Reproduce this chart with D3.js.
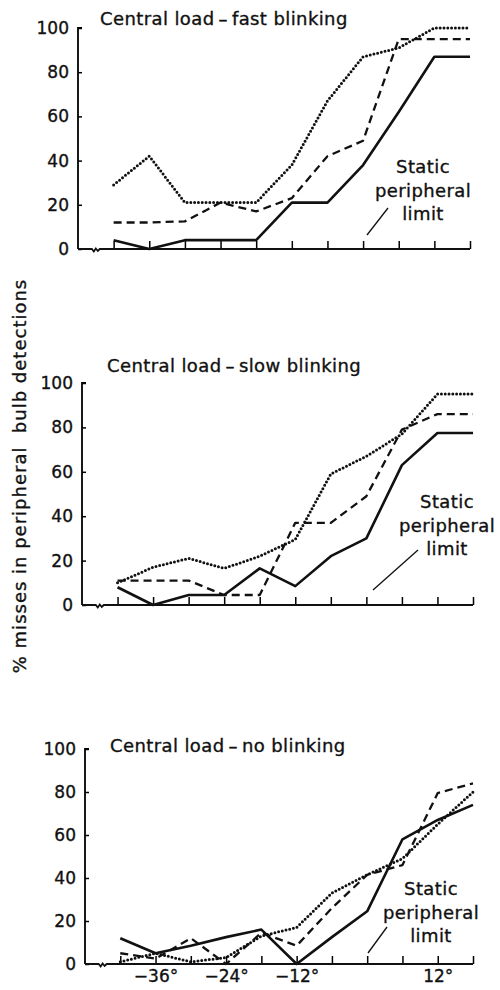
<!DOCTYPE html>
<html>
<head>
<meta charset="utf-8">
<script src="https://cdn.jsdelivr.net/npm/d3@7"></script>
<style>
  body { margin: 0; background: #fff; }
  svg text { font-family: "DejaVu Sans", "Liberation Sans", sans-serif; fill: #111; stroke: #111; stroke-width: 0.35px; }
</style>
</head>
<body>
<svg id="chart" width="500" height="990"></svg>
<script>
// eccentricity of the peripheral bulb (degrees)
const angles = [-42, -36, -30, -24, -18, -12, -6, 0, 6, 12, 18];
const labelledAngles = [-36, -24, -12, 12];
const yTicks = [0, 20, 40, 60, 80, 100];

const titles = ["Central load\u2009\u2013\u2009fast blinking", "Central load\u2009\u2013\u2009slow blinking", "Central load\u2009\u2013\u2009no blinking"];

// % misses
const fastSolid  = [4, 0, 4, 4, 4, 21, 21, 38, 62, 87, 87];
const fastDashed = [12, 12, 12.5, 21, 17, 23, 42, 49, 95, 95, 95];
const fastDotted = [29, 42, 21, 21, 21, 38, 67, 87, 91, 100, 100];

const slowSolid  = [8, 0, 4.5, 4.5, 16.5, 8.5, 22, 30, 63, 77.5, 77.5];
const slowDashed = [11, 11, 11, 4.5, 4.5, 37, 37, 49, 79, 86, 86];
const slowDotted = [10, 17, 21, 16.5, 22, 29.5, 59, 67, 77, 95, 95];

const noneSolid  = [12, 5, 8.5, 12.5, 16, 0, 12.5, 24.5, 58, 67, 74];
const noneDashed = [5, 2.5, 12, 0, 14.5, 8.5, 26, 41.5, 46, 79.5, 84];
const noneDotted = [1, 5, 1, 3, 13, 17, 33, 41.5, 49, 65, 80];

const svg = d3.select("#chart");

const panels = [
  { series: [fastSolid, fastDashed, fastDotted], left: 78, right: 470, top: 28, bottom: 249,
    titleX: 100, titleY: 25, note: [423, 173], slash: [[367, 235], [388, 208]], xLabels: false },
  { series: [slowSolid, slowDashed, slowDotted], left: 82, right: 473, top: 383, bottom: 605,
    titleX: 107, titleY: 372, note: [447, 508], slash: [[373, 590], [418, 550]], xLabels: false },
  { series: [noneSolid, noneDashed, noneDotted], left: 85, right: 473, top: 749, bottom: 964,
    titleX: 110, titleY: 752, note: [431, 895], slash: [[368, 953], [387, 927]], xLabels: true }
];

const styles = [
  { width: 2.6, dash: null, cap: "butt" },
  { width: 2.3, dash: "8,5", cap: "butt" },
  { width: 3, dash: "0,3.8", cap: "round" }
];

panels.forEach(function (p, i) {
  let x = d3.scaleLinear().domain([-48, 18]).range([p.left, p.right]);
  let y = d3.scaleLinear().domain([0, 100]).range([p.bottom, p.top]);
  let g = svg.append("g");

  // y axis, ticks pointing inwards
  let yAxis = d3.axisLeft(y).tickValues(yTicks).tickSize(-4).tickPadding(9);
  g.append("g")
    .attr("transform", "translate(" + p.left + ",0)")
    .call(yAxis)
    .call(a => a.select(".domain").attr("stroke-width", 1.8).attr("d", "M0," + p.bottom + "V" + p.top + "h4"))
    .call(a => a.selectAll(".tick line").attr("stroke-width", 1.5))
    .call(a => a.selectAll("text").style("font-size", "17px").attr("fill", "#111"));

  // x axis with a small break after the origin
  let xAxis = d3.axisBottom(x).tickValues(angles).tickSize(-8).tickPadding(6)
    .tickFormat(d => (p.xLabels && labelledAngles.includes(d)) ? (d < 0 ? "\u2212" + (-d) : d) + "\u00b0" : "");
  g.append("g")
    .attr("transform", "translate(0," + p.bottom + ")")
    .call(xAxis)
    .call(a => a.select(".domain").remove())
    .call(a => a.selectAll(".tick line").attr("stroke-width", 1.5))
    .call(a => a.selectAll("text").style("font-size", "17px").attr("fill", "#111"));

  let bx = x(-45);
  g.append("path")
    .attr("fill", "none").attr("stroke", "#111").attr("stroke-width", 1.8)
    .attr("d", "M" + p.left + "," + p.bottom + "H" + (bx - 4) + "l2,2.5l2,-3l2,2.5l2,-2H" + p.right);

  // the three curves
  p.series.forEach(function (vals, k) {
    let st = styles[k];
    let line = d3.line().x((d, j) => x(angles[j])).y(d => y(d));
    g.append("path")
      .datum(vals)
      .attr("fill", "none")
      .attr("stroke", "#111")
      .attr("stroke-width", st.width)
      .attr("stroke-linecap", st.cap)
      .attr("stroke-linejoin", "round")
      .attr("stroke-dasharray", st.dash)
      .attr("d", line);
  });

  g.append("text")
    .attr("x", p.titleX).attr("y", p.titleY)
    .style("font-size", "18px")
    .style("letter-spacing", "0.4px")
    .text(titles[i]);

  let note = g.append("text")
    .attr("text-anchor", "middle")
    .style("font-size", "18px")
    .style("letter-spacing", "0.4px");
  ["Static", "peripheral", "limit"].forEach(function (t, j) {
    note.append("tspan").attr("x", p.note[0]).attr("y", p.note[1] + j * 23.5).text(t);
  });
  g.append("line")
    .attr("x1", p.slash[0][0]).attr("y1", p.slash[0][1])
    .attr("x2", p.slash[1][0]).attr("y2", p.slash[1][1])
    .attr("stroke", "#111").attr("stroke-width", 1.3);
});

svg.append("text")
  .attr("transform", "translate(26,476) rotate(-90)")
  .attr("text-anchor", "middle")
  .style("font-size", "18px")
  .style("letter-spacing", "1px")
  .text("% misses in peripheral\u00a0 bulb detections");
</script>
</body>
</html>
